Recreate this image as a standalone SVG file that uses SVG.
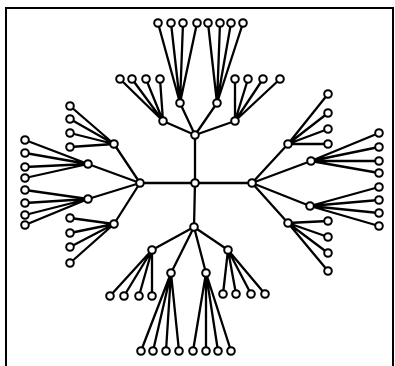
<svg xmlns="http://www.w3.org/2000/svg" width="395" height="366" viewBox="0 0 395 366">
<style>
.e{stroke:#000;stroke-width:2.3;fill:none;stroke-linecap:round}
.n circle{fill:#fff;stroke:#000;stroke-width:2;r:3.8px}
.frame{fill:none;stroke:#000;stroke-width:2}
</style>
<rect width="395" height="366" fill="#fff"/>
<path class="frame" d="M6,372 V8 H393 V372"/>
<g id="connectors" class="e">
<path d="M195,183L195,135M195,183L140,183M195,183L252,183M195,183L194,227"/>
<path d="M195,135L163,121M195,135L180,103M195,135L217,103M195,135L235,121"/>
<path d="M163,121L120,79M163,121L132,79M163,121L146,79M163,121L160,79"/>
<path d="M180,103L158,23M180,103L171,23M180,103L183,23M180,103L197,23"/>
<path d="M217,103L208,23M217,103L220,23M217,103L231,23M217,103L243,23"/>
<path d="M235,121L235,79M235,121L248,79M235,121L263,79M235,121L280,79"/>
<path d="M140,183L114,144M140,183L88,164M140,183L88,199M140,183L114,224"/>
<path d="M114,144L70,106M114,144L70,119M114,144L70,133M114,144L70,147"/>
<path d="M88,164L25,140M88,164L25,153M88,164L25,167M88,164L25,178"/>
<path d="M88,199L25,190M88,199L25,203M88,199L25,215M88,199L25,225"/>
<path d="M114,224L70,218M114,224L70,233M114,224L70,247M114,224L70,263"/>
<path d="M252,183L288,144M252,183L311,161M252,183L310,206M252,183L288,223"/>
<path d="M288,144L328,94M288,144L328,113M288,144L328,129M288,144L328,144"/>
<path d="M311,161L379,133M311,161L379,147M311,161L379,161M311,161L379,173"/>
<path d="M310,206L379,187M310,206L379,200M310,206L379,213M310,206L379,226"/>
<path d="M288,223L328,221M288,223L328,237M288,223L328,253M288,223L328,271"/>
<path d="M194,227L152,250M194,227L171,273M194,227L206,273M194,227L228,250"/>
<path d="M152,250L110,296M152,250L124,296M152,250L139,296M152,250L152,296"/>
<path d="M171,273L141,351M171,273L153,351M171,273L166,351M171,273L179,351"/>
<path d="M206,273L193,351M206,273L206,351M206,273L218,351M206,273L231,351"/>
<path d="M228,250L223,294M228,250L236,294M228,250L251,294M228,250L265,294"/>
</g>
<g class="n">
<g id="c"><circle cx="195" cy="183" r="3.8"/></g>
<g id="T"><circle cx="195" cy="135" r="3.8"/></g>
<g id="L"><circle cx="140" cy="183" r="3.8"/></g>
<g id="R"><circle cx="252" cy="183" r="3.8"/></g>
<g id="B"><circle cx="194" cy="227" r="3.8"/></g>
<g id="T1"><circle cx="163" cy="121" r="3.8"/></g>
<g id="T2"><circle cx="180" cy="103" r="3.8"/></g>
<g id="T3"><circle cx="217" cy="103" r="3.8"/></g>
<g id="T4"><circle cx="235" cy="121" r="3.8"/></g>
<g id="T1a"><circle cx="120" cy="79" r="3.8"/></g>
<g id="T1b"><circle cx="132" cy="79" r="3.8"/></g>
<g id="T1c"><circle cx="146" cy="79" r="3.8"/></g>
<g id="T1d"><circle cx="160" cy="79" r="3.8"/></g>
<g id="T2a"><circle cx="158" cy="23" r="3.8"/></g>
<g id="T2b"><circle cx="171" cy="23" r="3.8"/></g>
<g id="T2c"><circle cx="183" cy="23" r="3.8"/></g>
<g id="T2d"><circle cx="197" cy="23" r="3.8"/></g>
<g id="T3a"><circle cx="208" cy="23" r="3.8"/></g>
<g id="T3b"><circle cx="220" cy="23" r="3.8"/></g>
<g id="T3c"><circle cx="231" cy="23" r="3.8"/></g>
<g id="T3d"><circle cx="243" cy="23" r="3.8"/></g>
<g id="T4a"><circle cx="235" cy="79" r="3.8"/></g>
<g id="T4b"><circle cx="248" cy="79" r="3.8"/></g>
<g id="T4c"><circle cx="263" cy="79" r="3.8"/></g>
<g id="T4d"><circle cx="280" cy="79" r="3.8"/></g>
<g id="L1"><circle cx="114" cy="144" r="3.8"/></g>
<g id="L2"><circle cx="88" cy="164" r="3.8"/></g>
<g id="L3"><circle cx="88" cy="199" r="3.8"/></g>
<g id="L4"><circle cx="114" cy="224" r="3.8"/></g>
<g id="L1a"><circle cx="70" cy="106" r="3.8"/></g>
<g id="L1b"><circle cx="70" cy="119" r="3.8"/></g>
<g id="L1c"><circle cx="70" cy="133" r="3.8"/></g>
<g id="L1d"><circle cx="70" cy="147" r="3.8"/></g>
<g id="L2a"><circle cx="25" cy="140" r="3.8"/></g>
<g id="L2b"><circle cx="25" cy="153" r="3.8"/></g>
<g id="L2c"><circle cx="25" cy="167" r="3.8"/></g>
<g id="L2d"><circle cx="25" cy="178" r="3.8"/></g>
<g id="L3a"><circle cx="25" cy="190" r="3.8"/></g>
<g id="L3b"><circle cx="25" cy="203" r="3.8"/></g>
<g id="L3c"><circle cx="25" cy="215" r="3.8"/></g>
<g id="L3d"><circle cx="25" cy="225" r="3.8"/></g>
<g id="L4a"><circle cx="70" cy="218" r="3.8"/></g>
<g id="L4b"><circle cx="70" cy="233" r="3.8"/></g>
<g id="L4c"><circle cx="70" cy="247" r="3.8"/></g>
<g id="L4d"><circle cx="70" cy="263" r="3.8"/></g>
<g id="R1"><circle cx="288" cy="144" r="3.8"/></g>
<g id="R2"><circle cx="311" cy="161" r="3.8"/></g>
<g id="R3"><circle cx="310" cy="206" r="3.8"/></g>
<g id="R4"><circle cx="288" cy="223" r="3.8"/></g>
<g id="R1a"><circle cx="328" cy="94" r="3.8"/></g>
<g id="R1b"><circle cx="328" cy="113" r="3.8"/></g>
<g id="R1c"><circle cx="328" cy="129" r="3.8"/></g>
<g id="R1d"><circle cx="328" cy="144" r="3.8"/></g>
<g id="R2a"><circle cx="379" cy="133" r="3.8"/></g>
<g id="R2b"><circle cx="379" cy="147" r="3.8"/></g>
<g id="R2c"><circle cx="379" cy="161" r="3.8"/></g>
<g id="R2d"><circle cx="379" cy="173" r="3.8"/></g>
<g id="R3a"><circle cx="379" cy="187" r="3.8"/></g>
<g id="R3b"><circle cx="379" cy="200" r="3.8"/></g>
<g id="R3c"><circle cx="379" cy="213" r="3.8"/></g>
<g id="R3d"><circle cx="379" cy="226" r="3.8"/></g>
<g id="R4a"><circle cx="328" cy="221" r="3.8"/></g>
<g id="R4b"><circle cx="328" cy="237" r="3.8"/></g>
<g id="R4c"><circle cx="328" cy="253" r="3.8"/></g>
<g id="R4d"><circle cx="328" cy="271" r="3.8"/></g>
<g id="B1"><circle cx="152" cy="250" r="3.8"/></g>
<g id="B2"><circle cx="171" cy="273" r="3.8"/></g>
<g id="B3"><circle cx="206" cy="273" r="3.8"/></g>
<g id="B4"><circle cx="228" cy="250" r="3.8"/></g>
<g id="B1a"><circle cx="110" cy="296" r="3.8"/></g>
<g id="B1b"><circle cx="124" cy="296" r="3.8"/></g>
<g id="B1c"><circle cx="139" cy="296" r="3.8"/></g>
<g id="B1d"><circle cx="152" cy="296" r="3.8"/></g>
<g id="B2a"><circle cx="141" cy="351" r="3.8"/></g>
<g id="B2b"><circle cx="153" cy="351" r="3.8"/></g>
<g id="B2c"><circle cx="166" cy="351" r="3.8"/></g>
<g id="B2d"><circle cx="179" cy="351" r="3.8"/></g>
<g id="B3a"><circle cx="193" cy="351" r="3.8"/></g>
<g id="B3b"><circle cx="206" cy="351" r="3.8"/></g>
<g id="B3c"><circle cx="218" cy="351" r="3.8"/></g>
<g id="B3d"><circle cx="231" cy="351" r="3.8"/></g>
<g id="B4a"><circle cx="223" cy="294" r="3.8"/></g>
<g id="B4b"><circle cx="236" cy="294" r="3.8"/></g>
<g id="B4c"><circle cx="251" cy="294" r="3.8"/></g>
<g id="B4d"><circle cx="265" cy="294" r="3.8"/></g>
</g>
</svg>
